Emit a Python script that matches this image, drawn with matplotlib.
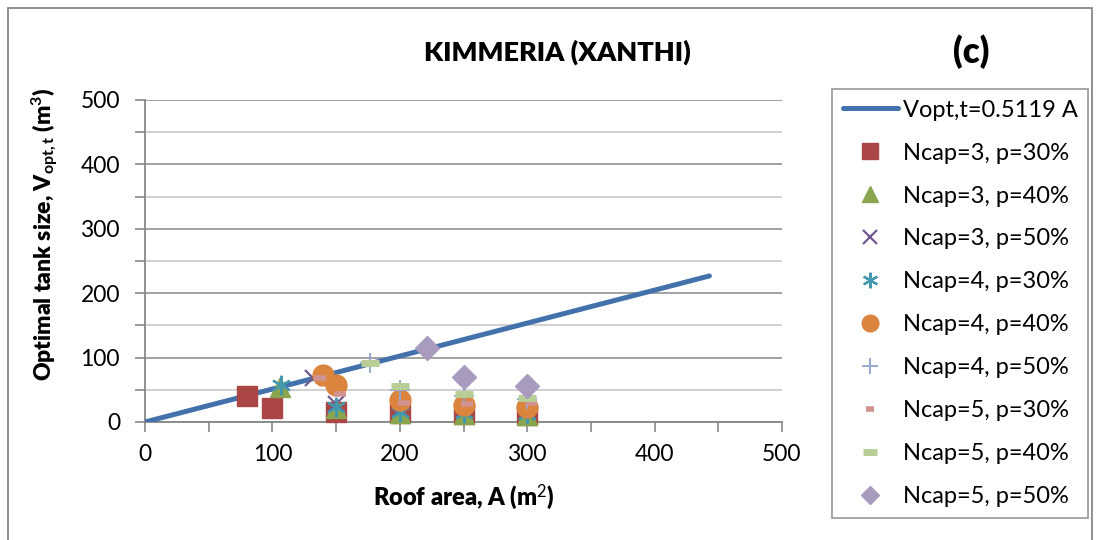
import matplotlib
matplotlib.use("Agg")
import matplotlib.pyplot as plt
from matplotlib.patches import Rectangle
from matplotlib.ticker import MultipleLocator

plt.rcParams['font.family'] = ['Lato', 'DejaVu Sans']
plt.rcParams['mathtext.fontset'] = 'custom'
plt.rcParams['mathtext.rm'] = 'Lato'
plt.rcParams['mathtext.bf'] = 'Lato:bold'
plt.rcParams['mathtext.it'] = 'Lato:italic'

# ---- data ----
line_A = [0, 443]
slope = 0.5119

n3p30_x = [80, 100, 150, 200, 250, 300]
n3p30_y = [40, 22, 15, 14, 12, 11]
n3p40_x = [106, 150, 200, 250, 300]
n3p40_y = [55, 22, 14, 12, 11]
n3p50_x = [132, 150, 200, 250, 300]
n3p50_y = [68, 28, 20, 18, 16]
n4p30_x = [107, 150, 200, 250, 300]
n4p30_y = [58, 24, 15, 14, 12]
n4p40_x = [140, 150, 200, 250, 300]
n4p40_y = [73, 58, 34, 26, 24]
n4p50_x = [177, 200, 250, 300]
n4p50_y = [92, 50, 40, 35]
n5p30_x = [137, 153, 203, 253, 303]
n5p30_y = [68, 43, 30, 28, 30]
n5p40_x = [177, 200, 250, 300]
n5p40_y = [92, 56, 44, 37]
n5p50_x = [221, 250, 300]
n5p50_y = [115, 70, 56]

x_ticks = [0, 100, 200, 300, 400, 500]
y_ticks = [0, 100, 200, 300, 400, 500]

fig = plt.figure(figsize=(10.97, 5.40), dpi=100)
ax = fig.add_axes([145/1097, 1-422/540, (782-145)/1097, (422-100)/540])

ax.plot(line_A, [slope*a for a in line_A], color='#4371AC', lw=3.6,
        solid_capstyle='round', label='Vopt,t=0.5119 A', zorder=3)

kw = dict(ls='none', clip_on=False, zorder=4)
ax.plot(n3p30_x, n3p30_y, marker='s', ms=14, color='#AA4643', mec='#AA4643', label='Ncap=3, p=30%', **kw)
ax.plot(n3p40_x, n3p40_y, marker='^', ms=14, color='#89A54E', mec='#89A54E', label='Ncap=3, p=40%', **kw)
ax.plot(n3p50_x, n3p50_y, marker='x', ms=12, mew=1.6, color='#71588F', label='Ncap=3, p=50%', **kw)
ax.plot(n4p30_x, n4p30_y, marker=(6, 2, 0), ms=14, mew=1.6, color='#4198AF', label='Ncap=4, p=30%', **kw)
ax.plot(n4p40_x, n4p40_y, marker='o', ms=15, color='#DB843D', mec='#DB843D', label='Ncap=4, p=40%', **kw)
ax.plot(n4p50_x, n4p50_y, marker='+', ms=14, mew=1.4, color='#93A9CF', label='Ncap=4, p=50%', **kw)
ax.plot(n5p30_x, n5p30_y, marker='_', ms=8, mew=4, color='#D19392', label='Ncap=5, p=30%', **kw)
ax.plot(n5p40_x, n5p40_y, marker='_', ms=13, mew=5, color='#B9CD96', label='Ncap=5, p=40%', **kw)
ax.plot(n5p50_x, n5p50_y, marker='D', ms=12, color='#A99BBD', mec='#A99BBD', label='Ncap=5, p=50%', **kw)

ax.set_xlim(0, 500)
ax.set_ylim(0, 500)
ax.set_xticks(x_ticks)
ax.set_yticks(y_ticks)
ax.xaxis.set_minor_locator(MultipleLocator(50))
ax.yaxis.set_minor_locator(MultipleLocator(50))
ax.grid(True, which='major', axis='y', color='#9A9A9A', lw=1.3, zorder=0)
ax.grid(True, which='minor', axis='y', color='#C8C8C8', lw=1.2, zorder=0)
ax.tick_params(which='both', direction='out', length=7, width=1.2, color='#878787',
               labelsize=16.5)
ax.tick_params(axis='y', which='both', pad=11)
ax.tick_params(axis='x', which='both', pad=9)
for s in ['top', 'right']:
    ax.spines[s].set_visible(False)
for s in ['left', 'bottom']:
    ax.spines[s].set_color('#878787')
    ax.spines[s].set_linewidth(1.3)

ax.set_xlabel('Roof area, A (m$^2$)', fontsize=17, fontweight='heavy')
ax.xaxis.set_label_coords(0.5, -(497-422)/322)
ax.xaxis.label.set_va('center')
ax.set_ylabel('Optimal tank size, V$_{\\mathbf{opt,t}}$ (m$^\\mathbf{3}$)', fontsize=16.5,
              fontweight='heavy')
ax.yaxis.set_label_coords(-(145-45)/637, (422-234)/322)
ax.yaxis.label.set_va('center')
fig.text(557/1097, 1-52/540, 'KIMMERIA (XANTHI)', fontsize=19.5, fontweight='heavy',
         ha='center', va='center')
fig.text(971/1097, 1-52/540, '(c)', fontsize=25, fontweight='heavy', ha='center', va='center')

leg = fig.legend(loc='upper left', bbox_to_anchor=(832/1097, 1-89/540), frameon=True,
                 fancybox=False, edgecolor='#878787', fontsize=17, labelspacing=0.93,
                 handlelength=2.35, borderpad=0.45, handletextpad=0.2, markerscale=0.8,
                 borderaxespad=0)
leg.get_frame().set_linewidth(1.3)

fig.patches.append(Rectangle((8/1097, -0.05), (1092-8)/1097, 1.05-8/540, transform=fig.transFigure,
                             fill=False, edgecolor='#878787', lw=1.3))

fig.savefig('out.png', dpi=100)
